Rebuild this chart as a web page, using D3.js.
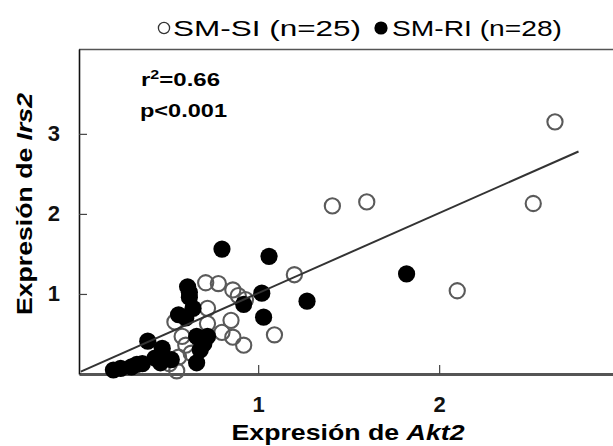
<!DOCTYPE html>
<html>
<head>
<meta charset="utf-8">
<script src="https://cdn.jsdelivr.net/npm/d3@7"></script>
<style>
  body { margin: 0; background: #fff; }
  svg text { font-family: "Liberation Sans", Arial, sans-serif; }
</style>
</head>
<body>
<div id="chart"></div>
<script>
// SM-SI (open circles): [Akt2, Irs2]
var smSI = [
  [2.64, 3.15], [2.52, 2.13], [2.10, 1.04], [1.41, 2.10], [1.60, 2.15],
  [1.20, 1.24], [1.09, 0.49], [0.71, 1.14], [0.78, 1.13], [0.86, 1.05],
  [0.93, 0.93], [0.72, 0.82], [0.85, 0.67], [0.72, 0.63], [0.86, 0.46],
  [0.92, 0.36], [0.54, 0.65], [0.60, 0.36], [0.56, 0.21], [0.51, 0.13],
  [0.58, 0.47], [0.89, 0.98], [0.55, 0.04], [0.63, 0.26], [0.80, 0.52]
];
// SM-RI (filled circles)
var smRI = [
  [0.80, 1.56], [1.06, 1.47], [1.02, 1.01], [1.27, 0.91], [1.03, 0.71],
  [0.92, 0.87], [1.82, 1.25], [0.61, 1.09], [0.62, 0.96], [0.64, 0.82],
  [0.56, 0.74], [0.60, 0.70], [0.72, 0.47], [0.66, 0.47], [0.68, 0.30],
  [0.66, 0.14], [0.39, 0.41], [0.47, 0.32], [0.43, 0.20], [0.36, 0.13],
  [0.30, 0.09], [0.24, 0.07], [0.20, 0.05], [0.46, 0.14], [0.52, 0.18],
  [0.33, 0.12], [0.62, 1.02], [0.70, 0.38]
];
// regression line (fitted over both groups)
var fitSlope = 1.0;
var fitIntercept = 0.01;
var fitRange = [0.02, 2.77];

var xTicks = [1, 2];
var yTicks = [1, 2, 3];
var legendLabels = ["SM-SI (n=25)", "SM-RI (n=28)"];
var statLines = ["0.66", "p<0.001"];

var W = 613, H = 446;
var plot = { left: 79, right: 707, top: 49, bottom: 374 };

var svg = d3.select("#chart").append("svg")
  .attr("width", W)
  .attr("height", H);

var x = d3.scaleLinear().domain([0.01, 3.48]).range([plot.left, plot.right]);
var y = d3.scaleLinear().domain([0, 4.06]).range([plot.bottom, plot.top]);

// frame top line (plot box runs off the right edge)
svg.append("line")
  .attr("x1", plot.left).attr("x2", plot.right)
  .attr("y1", plot.top + 0.5).attr("y2", plot.top + 0.5)
  .style("stroke", "#555").style("stroke-width", 1.5);

// axes, ticks point inward
var xAxis = svg.append("g")
  .attr("transform", "translate(0," + plot.bottom + ")")
  .call(d3.axisBottom(x).tickValues(xTicks).tickFormat(d3.format("d"))
    .tickSizeInner(-9).tickSizeOuter(0).tickPadding(22));
xAxis.select(".domain").style("stroke", "#555").style("stroke-width", 3);
xAxis.selectAll(".tick line").style("stroke", "#444").style("stroke-width", 1.2);
xAxis.selectAll(".tick text")
  .style("font-size", "22px").style("font-weight", "bold").attr("fill", "#111");

var yAxis = svg.append("g")
  .attr("transform", "translate(" + plot.left + ",0)")
  .call(d3.axisLeft(y).tickValues(yTicks).tickFormat(d3.format("d"))
    .tickSizeInner(-8).tickSizeOuter(0).tickPadding(19));
yAxis.select(".domain").style("stroke", "#111").style("stroke-width", 1.6);
yAxis.selectAll(".tick line").style("stroke", "#444").style("stroke-width", 1.2);
yAxis.selectAll(".tick text")
  .style("font-size", "22px").style("font-weight", "bold").attr("fill", "#111");

// points
svg.append("g").selectAll("circle")
  .data(smSI)
  .enter().append("circle")
  .attr("cx", d => x(d[0]))
  .attr("cy", d => y(d[1]))
  .attr("r", 7.6)
  .style("fill", "none")
  .style("stroke", "#5a5a5a")
  .style("stroke-width", 2.1);

svg.append("g").selectAll("circle")
  .data(smRI)
  .enter().append("circle")
  .attr("cx", d => x(d[0]))
  .attr("cy", d => y(d[1]))
  .attr("r", 8.6)
  .style("fill", "#000");

// regression line
svg.append("line")
  .attr("x1", x(fitRange[0])).attr("y1", y(fitIntercept + fitSlope * fitRange[0]))
  .attr("x2", x(fitRange[1])).attr("y2", y(fitIntercept + fitSlope * fitRange[1]))
  .style("stroke", "#333").style("stroke-width", 2);

// r2 / p annotation
var r2 = svg.append("text")
  .attr("x", 141).attr("y", 86)
  .style("font-size", "18px").style("font-weight", "bold")
  .attr("textLength", 79).attr("lengthAdjust", "spacingAndGlyphs");
r2.append("tspan").text("r");
r2.append("tspan").attr("dy", -7).style("font-size", "12px").text("2");
r2.append("tspan").attr("dy", 7).text("=" + statLines[0]);

svg.append("text")
  .attr("x", 140).attr("y", 117)
  .style("font-size", "18px").style("font-weight", "bold")
  .attr("textLength", 87).attr("lengthAdjust", "spacingAndGlyphs")
  .text(statLines[1]);

// legend
var legend = svg.append("g");
legend.append("circle")
  .attr("cx", 164).attr("cy", 28).attr("r", 5.6)
  .style("fill", "none").style("stroke", "#333").style("stroke-width", 1.3);
legend.append("text")
  .attr("x", 173).attr("y", 36)
  .style("font-size", "22px")
  .attr("textLength", 188).attr("lengthAdjust", "spacingAndGlyphs")
  .text(legendLabels[0]);
legend.append("circle")
  .attr("cx", 381).attr("cy", 28).attr("r", 6.6)
  .style("fill", "#000");
legend.append("text")
  .attr("x", 392).attr("y", 36)
  .style("font-size", "22px")
  .attr("textLength", 170).attr("lengthAdjust", "spacingAndGlyphs")
  .text(legendLabels[1]);

// axis titles
var xt = svg.append("text")
  .attr("x", 348).attr("y", 440)
  .attr("text-anchor", "middle")
  .style("font-size", "22px").style("font-weight", "bold")
  .attr("textLength", 233).attr("lengthAdjust", "spacingAndGlyphs");
xt.append("tspan").text("Expresión de ");
xt.append("tspan").style("font-style", "italic").text("Akt2");

var yt = svg.append("text")
  .attr("transform", "translate(32,204) rotate(-90)")
  .attr("text-anchor", "middle")
  .style("font-size", "22px").style("font-weight", "bold")
  .attr("textLength", 222).attr("lengthAdjust", "spacingAndGlyphs");
yt.append("tspan").text("Expresión de ");
yt.append("tspan").style("font-style", "italic").text("Irs2");
</script>
</body>
</html>
